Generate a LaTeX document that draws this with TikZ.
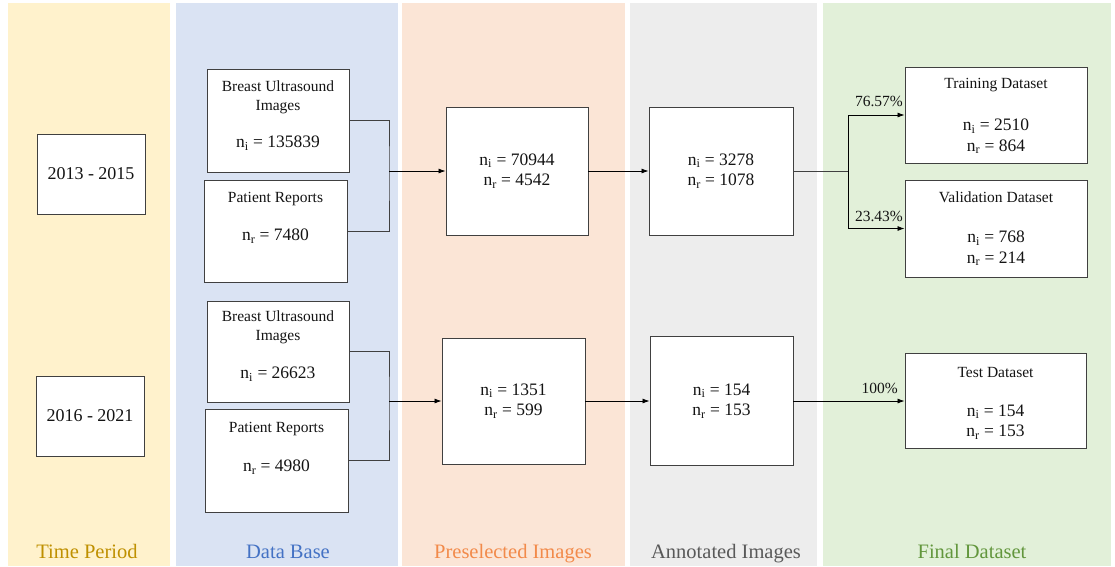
\documentclass[tikz,border=0pt]{standalone}
\usepackage{fontspec}
\setmainfont{Liberation Serif}
\usetikzlibrary{arrows.meta, positioning}
\definecolor{timebg}{RGB}{255,242,204}
\definecolor{basebg}{RGB}{218,227,243}
\definecolor{prebg}{RGB}{251,229,214}
\definecolor{annbg}{RGB}{237,237,237}
\definecolor{finalbg}{RGB}{226,240,217}
\definecolor{timecol}{RGB}{191,144,0}
\definecolor{basecol}{RGB}{68,114,196}
\definecolor{precol}{RGB}{242,138,74}
\definecolor{anncol}{RGB}{89,89,89}
\definecolor{finalcol}{RGB}{98,150,60}
\definecolor{boxline}{RGB}{64,64,64}
\definecolor{txt}{RGB}{20,20,20}

\tikzset{
  panel/.style={draw=none},
  coltitle/.style={font=\fontsize{20.5}{24}\selectfont, anchor=base},
  databox/.style={draw=boxline, fill=white, line width=0.9pt, inner sep=0pt},
  numtext/.style={font=\fontsize{17.5}{20.5}\selectfont, align=center, text=txt, inner sep=0pt},
  lbltext/.style={font=\fontsize{15.5}{18.5}\selectfont, align=center, text=txt, inner sep=0pt},
  link/.style={draw=boxline, line width=0.8pt},
  flow/.style={-{Latex[length=7pt,width=5pt]}, line width=0.8pt},
}

\begin{document}
\begin{tikzpicture}[x=1pt, y=-1pt]
    \useasboundingbox[fill=white] (0,0) rectangle (1115,566);

    % Column panels
    \fill[timebg]  (8,3)   rectangle (170,566);
    \fill[basebg]  (176,3) rectangle (398,566);
    \fill[prebg]   (402,3) rectangle (625,566);
    \fill[annbg]   (630,3) rectangle (817,566);
    \fill[finalbg] (823,3) rectangle (1111,566);

    % Column titles
    \node[coltitle, text=timecol]  (tptitle)  at (87,558)  {Time Period};
    \node[coltitle, text=basecol]  (dbtitle)  at (288,558) {Data Base};
    \node[coltitle, text=precol]   (pstitle)  at (513,558) {Preselected Images};
    \node[coltitle, text=anncol]   (antitle)  at (726,558) {Annotated Images};
    \node[coltitle, text=finalcol] (fdtitle)  at (972,558) {Final Dataset};

    % Time period boxes
    \node[databox, minimum width=108pt, minimum height=80pt, font=\fontsize{18}{21}\selectfont, text=txt] (tp1) at (91,174) {2013 - 2015};
    \node[databox, minimum width=108pt, minimum height=80pt, font=\fontsize{18}{21}\selectfont, text=txt] (tp2) at (90,416) {2016 - 2021};

    % Data base boxes
    \node[databox, minimum width=142pt, minimum height=103pt] (bus1) at (278,120.5) {};
    \node[lbltext] (bus1t) at (278,97.5) {Breast Ultrasound\\Images};
    \node[numtext] (bus1n) at (278,143) {n\textsubscript{i} = 135839};
    \node[databox, minimum width=143pt, minimum height=102pt] (pr1) at (275.5,231) {};
    \node[lbltext] (pr1t) at (275.5,199) {Patient Reports};
    \node[numtext] (pr1n) at (275.5,236) {n\textsubscript{r} = 7480};

    \node[databox, minimum width=142pt, minimum height=101pt] (bus2) at (278,351.5) {};
    \node[lbltext] (bus2t) at (278,327.5) {Breast Ultrasound\\Images};
    \node[numtext] (bus2n) at (278,374) {n\textsubscript{i} = 26623};
    \node[databox, minimum width=143pt, minimum height=103pt] (pr2) at (276.5,460.5) {};
    \node[lbltext] (pr2t) at (276.5,429) {Patient Reports};
    \node[numtext] (pr2n) at (276.5,467) {n\textsubscript{r} = 4980};

    % Preselected and annotated boxes
    \node[databox, numtext, minimum width=142pt, minimum height=128pt] (pre1) at (517,171) {n\textsubscript{i} = 70944\\n\textsubscript{r} = 4542};
    \node[databox, numtext, minimum width=144pt, minimum height=128pt] (ann1) at (721,171) {n\textsubscript{i} = 3278\\n\textsubscript{r} = 1078};
    \node[databox, numtext, minimum width=143pt, minimum height=126pt] (pre2) at (513.5,401) {n\textsubscript{i} = 1351\\n\textsubscript{r} = 599};
    \node[databox, numtext, minimum width=143pt, minimum height=129pt] (ann2) at (721.5,401) {n\textsubscript{i} = 154\\n\textsubscript{r} = 153};

    % Final dataset boxes
    \node[databox, minimum width=182pt, minimum height=96pt] (train) at (996,115) {};
    \node[lbltext] (traint) at (996,85) {Training Dataset};
    \node[numtext] (trainn) at (996,136.5) {n\textsubscript{i} = 2510\\n\textsubscript{r} = 864};
    \node[databox, minimum width=182pt, minimum height=97pt] (valid) at (996,228.5) {};
    \node[lbltext] (validt) at (996,197) {Validation Dataset};
    \node[numtext] (validn) at (996,248.5) {n\textsubscript{i} = 768\\n\textsubscript{r} = 214};
    \node[databox, minimum width=181pt, minimum height=95pt] (test) at (995.5,401) {};
    \node[lbltext] (testt) at (995.5,372) {Test Dataset};
    \node[numtext] (testn) at (995.5,422) {n\textsubscript{i} = 154\\n\textsubscript{r} = 153};

    % Merging connectors
    \coordinate (j1) at (389,171);
    \coordinate (j2) at (389,401);
    \draw[link] (bus1.east) -| (j1) |- (pr1.east);
    \draw[link] (bus2.east) -| (j2) |- (pr2.east);
    \draw[flow] (j1) -- (pre1.west);
    \draw[flow] (j2) -- (pre2.west);
    \draw[flow] (pre1.east) -- (ann1.west);
    \draw[flow] (pre2.east) -- (ann2.west);

    % Split into final datasets
    \coordinate (s1) at (848,171);
    \draw[link] (ann1.east) -- (s1);
    \draw[flow] (s1) |- (train.west);
    \draw[flow] (s1) |- (valid.west);
    \draw[flow] (ann2.east) -- (test.west);
    \node[lbltext, anchor=east] (ptrain) at (903,101) {76.57\%};
    \node[lbltext, anchor=east] (pvalid) at (903,216) {23.43\%};
    \node[lbltext, anchor=east] (ptest)  at (898,388) {100\%};
\end{tikzpicture}
\end{document}
